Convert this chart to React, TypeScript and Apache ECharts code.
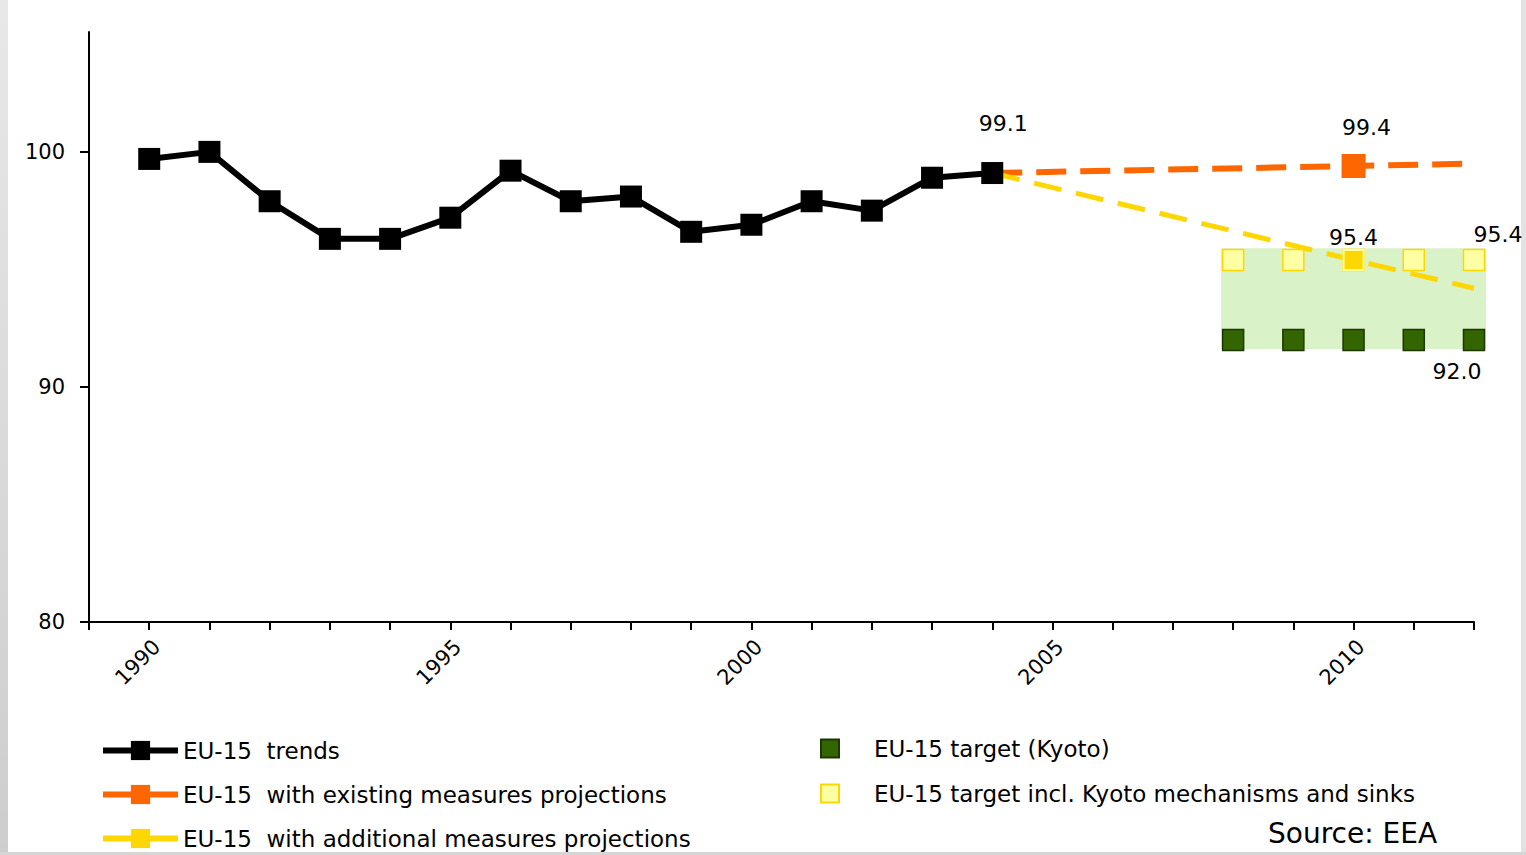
import React, { useEffect, useRef } from "react";
import * as echarts from "echarts";

const trendYears = [1990, 1991, 1992, 1993, 1994, 1995, 1996, 1997, 1998, 1999, 2000, 2001, 2002, 2003, 2004];
const trendValues = [99.7, 100.0, 97.9, 96.3, 96.3, 97.2, 99.2, 97.9, 98.1, 96.6, 96.9, 97.9, 97.5, 98.9, 99.1];
const projYears = [2004, 2010, 2012];
const existingValues = [99.1, 99.4, 99.5];
const additionalValues = [99.1, 95.4, 94.2];
const targetYears = [2008, 2009, 2010, 2011, 2012];
const kyotoValues = [92.0, 92.0, 92.0, 92.0, 92.0];
const kyotoInclValues = [95.4, 95.4, 95.4, 95.4, 95.4];
const targetBox = [2007.8, 2012.2, 91.6, 95.9];
const yTicks = [80, 90, 100];
const xLabelYears = [1990, 1995, 2000, 2005, 2010];

const FONT = "DejaVu Sans";
const names = {
  trends: "EU-15  trends",
  existing: "EU-15  with existing measures projections",
  additional: "EU-15  with additional measures projections",
  kyoto: "EU-15 target (Kyoto)",
  kyotoIncl: "EU-15 target incl. Kyoto mechanisms and sinks",
};

export default function App() {
  const ref = useRef<HTMLDivElement>(null);
  useEffect(() => {
    document.body.style.margin = "0";
    const chart = echarts.init(ref.current!, null, { renderer: "svg" });
    const lbl = { fontFamily: FONT, fontSize: 22, color: "#000" };
    const option: any = {
      animation: false,
      backgroundColor: "#fff",
      grid: { left: 89, right: 52, top: 32, bottom: 233 },
      xAxis: {
        type: "value",
        min: 1989,
        max: 2012,
        interval: 1,
        axisLine: { lineStyle: { color: "#000", width: 2 } },
        axisTick: { length: 8, lineStyle: { color: "#000", width: 2 } },
        axisLabel: {
          customValues: xLabelYears,
          formatter: (v: number) => String(v),
          rotate: 45,
          margin: 14,
          verticalAlign: "top",
          fontFamily: FONT,
          fontSize: 21,
          color: "#000",
        },
        splitLine: { show: false },
      },
      yAxis: {
        type: "value",
        min: 80,
        max: 105.1,
        interval: 10,
        axisLine: { show: true, lineStyle: { color: "#000", width: 2 } },
        axisTick: { show: true, customValues: yTicks, length: 9, lineStyle: { color: "#000", width: 2 } },
        axisLabel: { customValues: yTicks, margin: 24, fontFamily: FONT, fontSize: 21, color: "#000" },
        splitLine: { show: false },
      },
      legend: [
        {
          orient: "vertical",
          left: 100,
          top: 739,
          padding: 0,
          itemWidth: 75,
          itemHeight: 24,
          itemGap: 21,
          textStyle: { fontFamily: FONT, fontSize: 23, color: "#000" },
          data: [
            { name: names.trends, lineStyle: { type: "solid", width: 6 } },
            { name: names.existing, lineStyle: { type: "solid", width: 6 } },
            { name: names.additional, lineStyle: { type: "solid", width: 6 } },
          ],
        },
        {
          orient: "vertical",
          left: 820,
          top: 737,
          padding: 0,
          itemWidth: 18,
          itemHeight: 18,
          itemGap: 22,
          formatter: (n: string) => "{p|}" + n,
          textStyle: { fontFamily: FONT, fontSize: 23, color: "#000", rich: { p: { width: 30 } } },
          data: [names.kyoto, names.kyotoIncl],
        },
      ],
      graphic: [
        {
          type: "rect",
          left: 0,
          top: 0,
          shape: { width: 8, height: 855 },
          style: {
            fill: new echarts.graphic.LinearGradient(0, 0, 0, 1, [
              { offset: 0, color: "#e8e8e8" },
              { offset: 1, color: "#cdcdcd" },
            ]),
          },
        },
        { type: "rect", left: 1521, top: 0, shape: { width: 5, height: 855 }, style: { fill: "#e2e2e2" } },
        { type: "rect", left: 0, top: 852, shape: { width: 1526, height: 3 }, style: { fill: "#d6d6d6" } },
        {
          type: "text",
          left: 1268,
          top: 819,
          style: { text: "Source: EEA", fontFamily: FONT, fontSize: 28, fill: "#000" },
        },
      ],
      series: [
        {
          type: "custom",
          name: "box",
          clip: false,
          silent: true,
          z: 1,
          encode: { x: [0, 1], y: [2, 3] },
          data: [targetBox],
          renderItem: (params: any, api: any) => {
            const p0 = api.coord([api.value(0), api.value(3)]);
            const p1 = api.coord([api.value(1), api.value(2)]);
            return {
              type: "rect",
              shape: { x: p0[0], y: p0[1], width: p1[0] - p0[0], height: p1[1] - p0[1] },
              style: { fill: "#daf2c7" },
            };
          },
        },
        {
          type: "scatter",
          name: names.kyoto,
          z: 2,
          clip: false,
          symbol: "rect",
          symbolSize: 21,
          itemStyle: { color: "#336600", borderColor: "#1c3800", borderWidth: 1.5, opacity: 1 },
          data: targetYears.map((y, i) =>
            i === targetYears.length - 1
              ? {
                  value: [y, kyotoValues[i]],
                  label: { show: true, position: "bottom", distance: 9, offset: [-17, 0], formatter: "92.0", ...lbl },
                }
              : [y, kyotoValues[i]]
          ),
        },
        {
          type: "scatter",
          name: names.kyotoIncl,
          z: 2,
          clip: false,
          symbol: "rect",
          symbolSize: 21,
          itemStyle: { color: "#ffffa3", borderColor: "#ffd700", borderWidth: 1.5, opacity: 1 },
          data: targetYears.map((y, i) =>
            i === targetYears.length - 1
              ? {
                  value: [y, kyotoInclValues[i]],
                  label: { show: true, position: "top", distance: 3, offset: [24, 0], formatter: "95.4", ...lbl },
                }
              : [y, kyotoInclValues[i]]
          ),
        },
        {
          type: "line",
          name: names.existing,
          z: 3,
          clip: false,
          symbol: "rect",
          symbolSize: 24,
          itemStyle: { color: "#ff6600" },
          lineStyle: { color: "#ff6600", width: 6, type: [30, 14] },
          data: projYears.map((y, i) =>
            y === 2010
              ? {
                  value: [y, existingValues[i]],
                  label: { show: true, position: "top", distance: 15, offset: [13, 0], formatter: "99.4", ...lbl },
                }
              : { value: [y, existingValues[i]], symbol: "none" }
          ),
        },
        {
          type: "line",
          name: names.additional,
          z: 3,
          clip: false,
          symbol: "rect",
          symbolSize: 20,
          itemStyle: { color: "#ffd700" },
          lineStyle: { color: "#ffd700", width: 5, type: [28, 15] },
          data: projYears.map((y, i) =>
            y === 2010
              ? {
                  value: [y, additionalValues[i]],
                  itemStyle: { color: "#ffd700", borderColor: "#ffff99", borderWidth: 2 },
                  label: { show: true, position: "top", distance: 1, formatter: "95.4", ...lbl },
                }
              : { value: [y, additionalValues[i]], symbol: "none" }
          ),
        },
        {
          type: "line",
          name: names.trends,
          z: 4,
          clip: false,
          symbol: "rect",
          symbolSize: 22,
          itemStyle: { color: "#000" },
          lineStyle: { color: "#000", width: 6 },
          data: trendYears.map((y, i) =>
            y === 2004
              ? {
                  value: [y, trendValues[i]],
                  label: { show: true, position: "top", distance: 28, offset: [11, 0], formatter: "99.1", ...lbl },
                }
              : [y, trendValues[i]]
          ),
        },
      ],
    };
    chart.setOption(option);
    return () => chart.dispose();
  }, []);
  return <div ref={ref} style={{ width: 1526, height: 855 }} />;
}
